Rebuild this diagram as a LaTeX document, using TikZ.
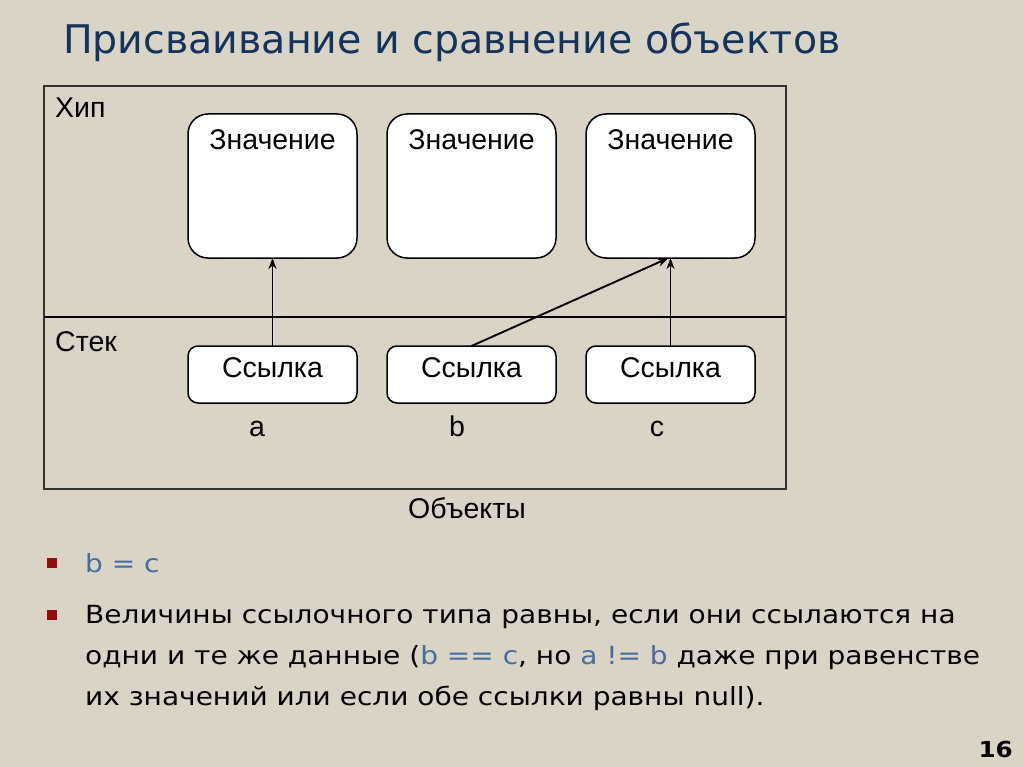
\documentclass[tikz,border=0pt]{standalone}
\usepackage{fontspec}
\setmainfont{Liberation Sans}
\newfontfamily\slidefont{DejaVu Sans}
\newfontfamily\bodyfont[FakeStretch=1.12]{DejaVu Sans}
\usetikzlibrary{positioning,arrows.meta}
\definecolor{paper}{RGB}{218,212,199}
\definecolor{titleblue}{RGB}{20,52,92}
\definecolor{codeblue}{RGB}{68,110,158}
\definecolor{bulletred}{RGB}{150,12,12}

\begin{document}
\begin{tikzpicture}[x=1pt, y=-1pt, >={Stealth[length=11pt,width=8pt]},
    heapbox/.style={draw, line width=1.5pt, fill=white, rounded corners=20pt, outer sep=0pt,
        minimum width=169pt, minimum height=144pt, inner sep=0pt},
    refbox/.style={draw, line width=1.5pt, fill=white, rounded corners=10pt, outer sep=0pt,
        minimum width=169pt, minimum height=57pt, inner sep=0pt,
        text height=20pt, text depth=14pt, font=\fontsize{28.5}{32}\selectfont},
    diag/.style={font=\fontsize{28.5}{32}\selectfont, inner sep=0pt},
    body/.style={font=\bodyfont\fontsize{25}{41}\selectfont, inner sep=0pt, anchor=base west},
    bullet/.style={fill=bulletred, minimum size=10pt, inner sep=0pt}]
    % --- background and title ---
    \fill[paper] (0,0) rectangle (1024,767);
    \useasboundingbox (0,0) rectangle (1024,767);
    \node[font=\slidefont\fontsize{39.5}{44}\selectfont, text=titleblue, anchor=base west,
        inner sep=0pt] (title) at (63,54) {Присваивание и сравнение объектов};

    % --- memory frame: heap above, stack below ---
    \draw[line width=1.2pt, draw=black!80] (44,86) rectangle (786,489);
    \draw[line width=2.5pt] (44,317) -- (786,317);
    \node[diag, anchor=base west] (heap) at (55,118) {Хип};
    \node[diag, anchor=base west] (stack) at (55,351) {Стек};

    % --- values in the heap ---
    \node[heapbox] (h1) at (272.5,186) {};
    \node[heapbox, right=30pt of h1] (h2) {};
    \node[heapbox, right=30pt of h2] (h3) {};
    \foreach \i in {1,2,3}
        \node[diag, anchor=base] (v\i) at ([yshift=-36pt]h\i.north) {Значение};

    % --- references on the stack ---
    \node[refbox] (s1) at (272.5,374.5) {Ссылка};
    \node[refbox, right=30pt of s1] (s2) {Ссылка};
    \node[refbox, right=30pt of s2] (s3) {Ссылка};
    \node[diag, anchor=base] (a) at (257,436) {a};
    \node[diag, anchor=base] (b) at (457,436) {b};
    \node[diag, anchor=base] (c) at (657,436) {c};
    \node[diag, anchor=base] (objects) at (467,518) {Объекты};

    % references point to values
    \draw[->, line width=1.9pt] (s1) -- (h1);
    \draw[->, line width=1.9pt] (s2.north) -- ([xshift=-2pt]h3.south);
    \draw[->, line width=1.9pt] (s3) -- (h3);

    % --- bullet points ---
    \node[bullet] (m1) at (52,563) {};
    \node[body, text=codeblue] (eq) at (85,572) {b = c};
    \node[bullet] (m2) at (52,615) {};
    \node[body] (l1) at (85,623) {Величины ссылочного типа равны, если они ссылаются на};
    \node[body] (l2) at (85,664) {одни и те же данные ({\color{codeblue}b == c}, но {\color{codeblue}a != b} даже при равенстве};
    \node[body] (l3) at (85,705) {их значений или если обе ссылки равны null).};

    % page number
    \node[font=\bodyfont\bfseries\fontsize{22}{24}\selectfont, anchor=base east,
        inner sep=0pt] (page) at (1013,757) {16};
\end{tikzpicture}
\end{document}
